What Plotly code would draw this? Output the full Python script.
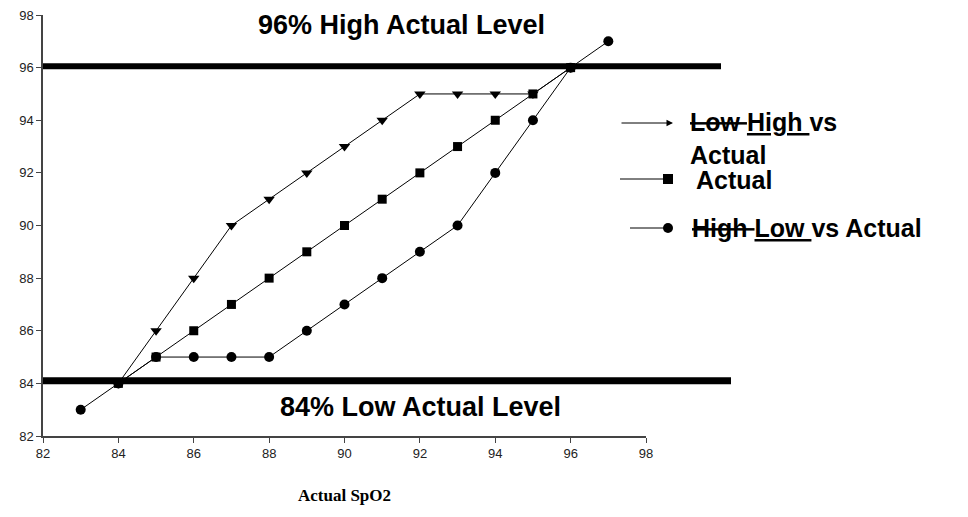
import plotly.graph_objects as go

# ---- data ----
x_high = [84, 85, 86, 87, 88, 89, 90, 91, 92, 93, 94, 95, 96]
y_high = [84, 86, 88, 90, 91, 92, 93, 94, 95, 95, 95, 95, 96]

x_actual = [84, 85, 86, 87, 88, 89, 90, 91, 92, 93, 94, 95, 96]
y_actual = [84, 85, 86, 87, 88, 89, 90, 91, 92, 93, 94, 95, 96]

x_low = [83, 84, 85, 86, 87, 88, 89, 90, 91, 92, 93, 94, 95, 96, 97]
y_low = [83, 84, 85, 85, 85, 85, 86, 87, 88, 89, 90, 92, 94, 96, 97]

high_level = 96.05
low_level = 84.1
x_ticks = [82, 84, 86, 88, 90, 92, 94, 96, 98]
y_ticks = [82, 84, 86, 88, 90, 92, 94, 96, 98]

# ---- geometry helpers (page pixel -> paper); page has 8px body margin ----
OFF = 8
W, H = 960, 509
PW, PH = 603, 421
L, T = 43 - OFF, 15 - OFF
R, B = W - L - PW, H - T - PH


def px(x):
    return (x - OFF - L) / PW


def py(y):
    return (OFF + T + PH - y) / PH


fig = go.Figure()
line = dict(color="black", width=1)
fig.add_trace(go.Scatter(x=x_low, y=y_low, mode="lines+markers", line=line,
                         marker=dict(symbol="circle", size=10, color="black"),
                         showlegend=False))
fig.add_trace(go.Scatter(x=x_actual, y=y_actual, mode="lines+markers", line=line,
                         marker=dict(symbol="square", size=9, color="black"),
                         showlegend=False))
fig.add_trace(go.Scatter(x=x_high, y=y_high, mode="lines+markers", line=line,
                         marker=dict(symbol="triangle-down", size=10, color="black"),
                         showlegend=False))

shapes = [
    dict(type="line", xref="paper", yref="y", x0=0, x1=px(721), y0=high_level, y1=high_level,
         line=dict(color="black", width=6)),
    dict(type="line", xref="paper", yref="y", x0=0, x1=px(731), y0=low_level, y1=low_level,
         line=dict(color="black", width=7)),
    # legend glyphs
    dict(type="line", xref="paper", yref="paper", x0=px(620), x1=px(664), y0=py(179), y1=py(179),
         line=dict(color="black", width=1)),
    dict(type="rect", xref="paper", yref="paper", x0=px(663), x1=px(673), y0=py(184), y1=py(174),
         fillcolor="black", line=dict(color="black", width=0)),
    dict(type="line", xref="paper", yref="paper", x0=px(630), x1=px(666), y0=py(228), y1=py(228),
         line=dict(color="black", width=1)),
    dict(type="circle", xref="paper", yref="paper", x0=px(663), x1=px(673), y0=py(233), y1=py(223),
         fillcolor="black", line=dict(color="black", width=0)),
]

bigfont = dict(family="Liberation Sans, Arial", size=27, color="black")
legfont = dict(family="Liberation Sans, Arial", size=25, color="black")
annotations = [
    dict(text="<b>96% High Actual Level</b>", xref="paper", yref="paper", x=px(401), y=py(25),
         showarrow=False, font=bigfont, xanchor="center", yanchor="middle"),
    dict(text="<b>84% Low Actual Level</b>", xref="paper", yref="paper", x=px(420), y=py(407),
         showarrow=False, font=bigfont, xanchor="center", yanchor="middle"),
    dict(text="<b><s>Low </s><u>High </u>vs<br>Actual</b>", xref="paper", yref="paper",
         x=px(688), y=py(138), showarrow=False, font=legfont, xanchor="left", yanchor="middle",
         align="left"),
    dict(text="<b>Actual</b>", xref="paper", yref="paper", x=px(694), y=py(180),
         showarrow=False, font=legfont, xanchor="left", yanchor="middle"),
    dict(text="<b><s>High </s><u>Low </u>vs Actual</b>", xref="paper", yref="paper",
         x=px(690), y=py(228), showarrow=False, font=legfont, xanchor="left", yanchor="middle"),
    # arrow glyph for first legend entry
    dict(text="", xref="paper", yref="paper", x=px(673), y=py(123), ax=-53, ay=0,
         showarrow=True, arrowhead=2, arrowsize=1.3, arrowwidth=1, arrowcolor="black"),
]

axis_common = dict(showgrid=False, zeroline=False, showline=True, linecolor="#444",
                   linewidth=1.5, ticks="outside", ticklen=5, tickcolor="#444",
                   ticklabeloverflow="allow", automargin=False,
                   tickfont=dict(family="Liberation Sans, Arial", size=13, color="#222"))

fig.update_layout(
    width=W, height=H,
    margin=dict(l=L, r=R, t=T, b=B, pad=0, autoexpand=False),
    paper_bgcolor="white", plot_bgcolor="white",
    xaxis=dict(range=[82, 98], tickvals=x_ticks, ticktext=[str(v) for v in x_ticks],
               title=dict(text="<b>Actual SpO2</b>", standoff=29,
                          font=dict(family="Liberation Serif, Times New Roman", size=17,
                                    color="black")),
               **axis_common),
    yaxis=dict(range=[82, 98], tickvals=y_ticks, ticktext=[str(v) for v in y_ticks],
               **axis_common),
    shapes=shapes,
    annotations=annotations,
    showlegend=False,
)

fig.write_html("out.html")
